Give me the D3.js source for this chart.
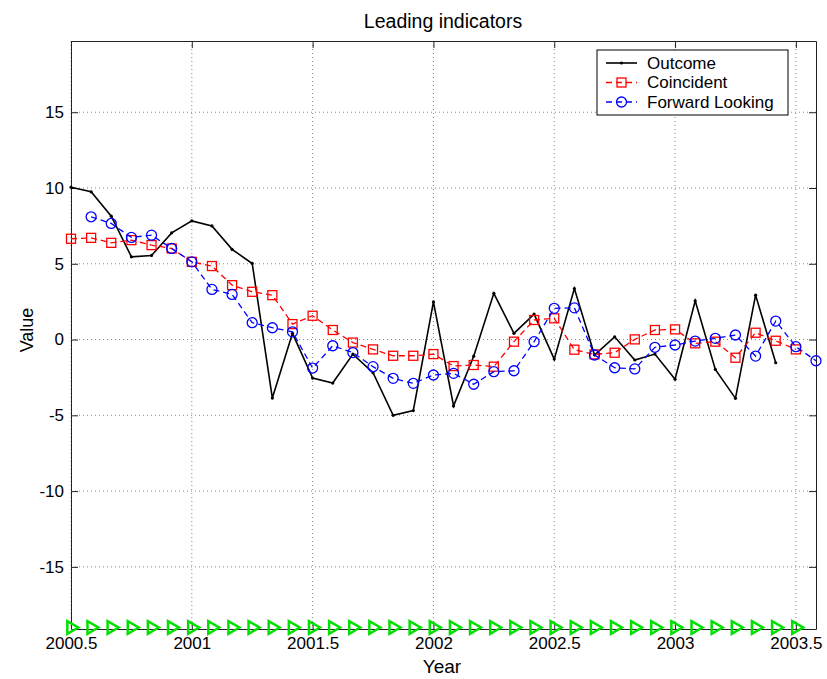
<!DOCTYPE html>
<html>
<head>
<meta charset="utf-8">
<script src="https://cdn.jsdelivr.net/npm/d3@7"></script>
<style>
  body { margin: 0; background: #fff; }
  svg text { font-family: Arial, "Liberation Sans", sans-serif; fill: #000; }
</style>
</head>
<body>
<div id="graphicContainer"></div>
<script>
// monthly observations, decimal years
var startYear = 2000.5;
var months = d3.range(38).map(function (i) { return startYear + i / 12; });

var outcome = [10.05, 9.75, 8.14, 5.46, 5.55, 7.04, 7.83, 7.5, 5.95, 5.02,
  -3.86, 0.41, -2.54, -2.87, -0.96, -2.19, -5.0, -4.69, 2.49, -4.38,
  -1.1, 3.05, 0.41, 1.68, -1.29, 3.37, -1.02, 0.18, -1.35, -0.96,
  -2.62, 2.56, -1.97, -3.88, 2.93, -1.53];

var coincident = [6.65, 6.71, 6.38, 6.56, 6.23, 6.01, 5.13, 4.85, 3.59, 3.15,
  2.93, 1.02, 1.57, 0.63, -0.2, -0.65, -1.07, -1.07, -0.96, -1.75,
  -1.68, -1.79, -0.14, 1.29, 1.4, -0.67, -0.98, -0.87, 0.01, 0.63,
  0.67, -0.25, -0.14, -1.2, 0.45, -0.08, -0.65];

// starts one month later
var forward = [null, 8.1, 7.66, 6.74, 6.89, 6.01, 5.13, 3.31, 2.98, 1.11,
  0.78, 0.51, -1.88, -0.41, -0.86, -1.79, -2.56, -2.89, -2.34, -2.23,
  -2.95, -2.12, -2.06, -0.14, 2.06, 2.09, -1.02, -1.86, -1.94, -0.51,
  -0.36, -0.1, 0.08, 0.3, -1.09, 1.22, -0.47, -1.4];

var markerCount = 37;
var markerLevel = -19;

var xTicks = [2000.5, 2001, 2001.5, 2002, 2002.5, 2003, 2003.5];
var yTicks = [-15, -10, -5, 0, 5, 10, 15];
var seriesNames = ["Outcome", "Coincident", "Forward Looking"];

var W = 827, H = 679;
var margin = { top: 41, right: 11, bottom: 50, left: 71 };
var width = W - margin.left - margin.right;
var height = H - margin.top - margin.bottom;

var svg = d3.select("#graphicContainer").append("svg")
  .attr("width", W).attr("height", H);

var x = d3.scaleLinear().domain([startYear, months[months.length - 1]]).range([0, width]);
var y = d3.scaleLinear().domain([-19.1, 19.7]).range([height, 0]);

var g = svg.append("g").attr("transform", "translate(" + margin.left + "," + margin.top + ")");

// grid
g.selectAll(".gx").data(xTicks).enter().append("line")
  .attr("x1", function (d) { return x(d); }).attr("x2", function (d) { return x(d); })
  .attr("y1", 0).attr("y2", height)
  .attr("stroke", "#888").attr("stroke-width", 1).attr("stroke-dasharray", "1,3");
g.selectAll(".gy").data(yTicks).enter().append("line")
  .attr("y1", function (d) { return y(d); }).attr("y2", function (d) { return y(d); })
  .attr("x1", 0).attr("x2", width)
  .attr("stroke", "#888").attr("stroke-width", 1).attr("stroke-dasharray", "1,3");

// axes (inward ticks on all four sides)
var tickLen = 7;
var plain = function (d) { return String(d); };
g.append("g").attr("transform", "translate(0," + height + ")")
  .call(d3.axisBottom(x).tickValues(xTicks).tickSizeInner(-tickLen).tickSizeOuter(0).tickPadding(8).tickFormat(plain));
g.append("g")
  .call(d3.axisTop(x).tickValues(xTicks).tickSizeInner(-tickLen).tickSizeOuter(0).tickFormat(""));
g.append("g")
  .call(d3.axisLeft(y).tickValues(yTicks).tickSizeInner(-tickLen).tickSizeOuter(0).tickPadding(7).tickFormat(plain));
g.append("g").attr("transform", "translate(" + width + ",0)")
  .call(d3.axisRight(y).tickValues(yTicks).tickSizeInner(-tickLen).tickSizeOuter(0).tickFormat(""));
g.selectAll(".domain").attr("stroke", "#222");
g.selectAll(".tick line").attr("stroke", "#222");
g.selectAll(".tick text").style("font-size", "17px").attr("fill", "#000");

var lineFn = d3.line()
  .defined(function (d) { return d[1] != null; })
  .x(function (d) { return x(d[0]); })
  .y(function (d) { return y(d[1]); });

function pairs(vals) {
  return vals.map(function (v, i) { return [months[i], v]; });
}

// outcome
g.append("path").datum(pairs(outcome)).attr("d", lineFn)
  .attr("fill", "none").attr("stroke", "#000").attr("stroke-width", 1.6);
g.selectAll(".dotO").data(pairs(outcome)).enter().append("circle")
  .attr("cx", function (d) { return x(d[0]); }).attr("cy", function (d) { return y(d[1]); })
  .attr("r", 1.6).attr("fill", "#000");

// coincident
g.append("path").datum(pairs(coincident)).attr("d", lineFn)
  .attr("fill", "none").attr("stroke", "#f00").attr("stroke-width", 1.3).attr("stroke-dasharray", "6,4");
g.selectAll(".sqC").data(pairs(coincident)).enter().append("rect")
  .attr("x", function (d) { return x(d[0]) - 4.5; }).attr("y", function (d) { return y(d[1]) - 4.5; })
  .attr("width", 9).attr("height", 9)
  .attr("fill", "none").attr("stroke", "#f00").attr("stroke-width", 1.3);

// forward looking
var fwd = pairs(forward).filter(function (d) { return d[1] != null; });
g.append("path").datum(fwd).attr("d", lineFn)
  .attr("fill", "none").attr("stroke", "#00f").attr("stroke-width", 1.3).attr("stroke-dasharray", "6,4");
g.selectAll(".ciF").data(fwd).enter().append("circle")
  .attr("cx", function (d) { return x(d[0]); }).attr("cy", function (d) { return y(d[1]); })
  .attr("r", 5).attr("fill", "none").attr("stroke", "#00f").attr("stroke-width", 1.3);

// green markers along the bottom
var tri = d3.symbol().type(d3.symbolTriangle).size(70);
g.selectAll(".triG").data(months.slice(0, markerCount)).enter().append("path")
  .attr("d", tri)
  .attr("transform", function (d) { return "translate(" + x(d) + "," + y(markerLevel) + ") rotate(90)"; })
  .attr("fill", "none").attr("stroke", "#00e000").attr("stroke-width", 2.5);

// legend
var leg = svg.append("g").attr("transform", "translate(597,50)");
leg.append("rect").attr("width", 191).attr("height", 65)
  .attr("fill", "#fff").attr("stroke", "#000").attr("stroke-width", 1);
var legStyles = [
  { color: "#000", dash: null, marker: "dot" },
  { color: "#f00", dash: "6,4", marker: "square" },
  { color: "#00f", dash: "6,4", marker: "circle" }
];
seriesNames.forEach(function (name, i) {
  var yy = 13 + i * 19.5;
  var s = legStyles[i];
  leg.append("line").attr("x1", 9).attr("x2", 40).attr("y1", yy).attr("y2", yy)
    .attr("stroke", s.color).attr("stroke-width", i === 0 ? 1.6 : 1.3)
    .attr("stroke-dasharray", s.dash);
  if (s.marker === "dot") {
    leg.append("circle").attr("cx", 24.5).attr("cy", yy).attr("r", 1.6).attr("fill", s.color);
  } else if (s.marker === "square") {
    leg.append("rect").attr("x", 20).attr("y", yy - 4.5).attr("width", 9).attr("height", 9)
      .attr("fill", "none").attr("stroke", s.color).attr("stroke-width", 1.3);
  } else {
    leg.append("circle").attr("cx", 24.5).attr("cy", yy).attr("r", 5)
      .attr("fill", "none").attr("stroke", s.color).attr("stroke-width", 1.3);
  }
  leg.append("text").attr("x", 50).attr("y", yy).attr("dy", "0.35em")
    .style("font-size", "17px").text(name);
});

// title and labels
svg.append("text").attr("x", 443).attr("y", 28).attr("text-anchor", "middle")
  .style("font-size", "19.5px").text("Leading indicators");
svg.append("text").attr("x", 442).attr("y", 673).attr("text-anchor", "middle")
  .style("font-size", "19px").text("Year");
svg.append("text").attr("transform", "translate(33,330) rotate(-90)").attr("text-anchor", "middle")
  .style("font-size", "18px").text("Value");
</script>
</body>
</html>
